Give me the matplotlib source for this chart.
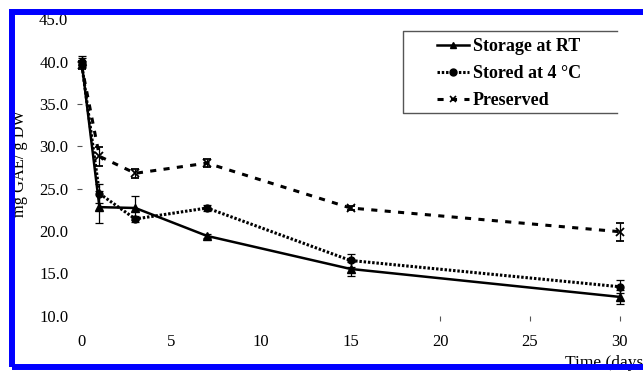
import matplotlib
matplotlib.use("Agg")
import matplotlib.pyplot as plt
from matplotlib.lines import Line2D
from matplotlib.patches import Rectangle

# Total phenolic content over storage time
days = [0, 1, 3, 7, 15, 30]
rt = [40.1, 22.8, 22.7, 19.4, 15.5, 12.2]
rt_err = [0.6, 1.9, 1.4, 0.2, 0.8, 0.8]
cold = [39.9, 24.4, 21.4, 22.7, 16.5, 13.4]
cold_err = [0.5, 1.1, 0.4, 0.4, 0.8, 0.8]
pres = [39.6, 28.8, 26.8, 28.0, 22.7, 19.9]
pres_err = [0.5, 1.1, 0.5, 0.5, 0.2, 1.05]

series_labels = ["Storage at RT", "Stored at 4 \u00b0C", "Preserved"]
x_ticks = [0, 5, 10, 15, 20, 25, 30]
y_ticks = [10, 15, 20, 25, 30, 35, 40, 45]

W, H = 643, 372
fig = plt.figure(figsize=(W / 100, H / 100), dpi=100)
fig.patch.set_facecolor("white")

serif = ["Liberation Serif", "DejaVu Serif"]


def fx(px):
    return px / W


def fy(py):
    return 1 - py / H


x0, x1 = 81.5, 619.5
ytop, ybot = 19.2, 315.5
ax = fig.add_axes([fx(x0), fy(ybot), fx(x1) - fx(x0), fy(ytop) - fy(ybot)])
ax.set_xlim(0, 30)
ax.set_ylim(10, 45)
for s in ax.spines.values():
    s.set_visible(False)

ax.set_xticks(x_ticks)
ax.set_xticklabels([str(t) for t in x_ticks], family=serif, fontsize=12)
ax.set_yticks(y_ticks)
ax.set_yticklabels([f"{t:.1f}" for t in y_ticks], family=serif, fontsize=12)
ax.tick_params(axis="x", length=3.5, width=0.8, color="#555555", pad=10)
ax.tick_params(axis="y", length=3.5, width=0.8, color="#555555", pad=6)
for t, tick in zip(x_ticks, ax.xaxis.get_major_ticks()):
    if t < 20:
        tick.tick1line.set_visible(False)
for t, tick in zip(y_ticks, ax.yaxis.get_major_ticks()):
    if t < 25 or t > 40:
        tick.tick1line.set_visible(False)

err_kw = dict(ecolor="black", elinewidth=0.9, capsize=3, capthick=0.9)

ax.errorbar(days, rt, yerr=rt_err, color="black", lw=1.8, ls="-",
            marker="^", ms=6, clip_on=False, **err_kw)
ax.errorbar(days, cold, yerr=cold_err, color="black", lw=2.2, ls=(0, (0.8, 0.6)),
            marker="o", ms=5, clip_on=False, **err_kw)
ax.errorbar(days, pres, yerr=pres_err, color="black", lw=2.2, ls=(0, (2.0, 2.4)),
            marker="x", ms=6, mew=1.3, clip_on=False, **err_kw)

fig.text(fx(20), fy(163), "mg GAE/ g DW", family=serif, fontsize=11.8,
         rotation=90, ha="center", va="center")

fig.text(fx(565), fy(367), "Time (days)", family=serif, fontsize=12.5,
         ha="left", va="baseline")

# Legend
handles = [
    Line2D([], [], color="black", lw=1.8, ls="-", marker="^", ms=5),
    Line2D([], [], color="black", lw=2.2, ls=(0, (0.8, 0.6)), marker="o", ms=5),
    Line2D([], [], color="black", lw=2.2, ls=(0, (2.0, 2.4)), marker="x", ms=5, mew=1.2),
]
leg = fig.legend(handles, series_labels, loc="upper left",
                 bbox_to_anchor=(fx(432), fy(33)), frameon=False,
                 prop=dict(family=serif, weight="bold", size=13),
                 handlelength=1.75, handletextpad=0.2, labelspacing=0.55,
                 borderpad=0.3, borderaxespad=0)
fig.add_artist(Line2D([fx(617), fx(403), fx(403), fx(617)],
                      [fy(31), fy(31), fy(113), fy(113)],
                      transform=fig.transFigure, color="#555555", lw=1.0))

# Blue outer frame
frame = Rectangle((fx(12), fy(367)), fx(700) - fx(12), fy(11.5) - fy(367),
                  transform=fig.transFigure, fill=False, edgecolor="#0000ff",
                  lw=4.3, zorder=20)
fig.add_artist(frame)

fig.savefig("out.png", dpi=100)
